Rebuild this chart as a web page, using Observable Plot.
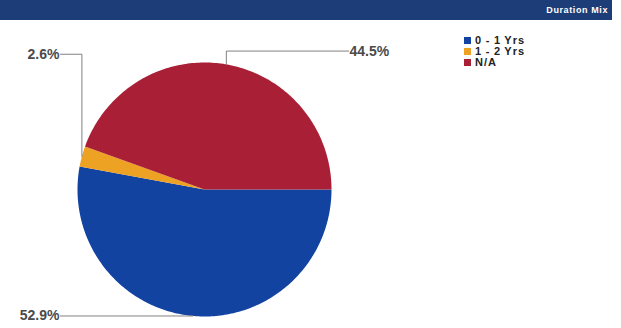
<!DOCTYPE html>
<html><head><meta charset="utf-8">
<script src="https://cdn.jsdelivr.net/npm/d3@7"></script>
<script src="https://cdn.jsdelivr.net/npm/@observablehq/plot@0.6"></script>
<style>
body{margin:0;background:#fff;font-family:"Liberation Sans",Arial,sans-serif;}
#wrap{position:relative;width:621px;height:328px;overflow:hidden;background:#fff}
#hdr{position:absolute;left:0;top:0;width:612px;height:20px;background:#1c3d78;}
#hdr span{position:absolute;right:4px;top:5px;color:#fff;font-size:9px;font-weight:bold;letter-spacing:0.6px}
#chart{position:absolute;left:0;top:21px}
#chart svg text.lbl{letter-spacing:0.8px}
#legend{position:absolute;left:464px;top:35px;font-size:11px;font-weight:bold;color:#222}
.row{height:11px;line-height:11px;display:flex;align-items:center;letter-spacing:1px;word-spacing:-0.5px}
.sw{width:7px;height:7px;margin-right:4px}
</style>
</head><body>
<div id="wrap">
  <div id="hdr"><span>Duration Mix</span></div>
  <div id="chart"></div>
  <div id="legend"></div>
</div>
<script>
const categories = ["0 - 1 Yrs", "1 - 2 Yrs", "N/A"];
const shares = [52.9, 2.6, 44.5];
const labels = ["52.9%", "2.6%", "44.5%"];
const colors = ["#1343a0", "#eea224", "#a91f36"];

// layout of the leader lines (unit-radius coordinates)
const leaderSide = [-1, -1, 1];
const leaderElbowY = [null, 1.065, 1.09];
const leaderEndX = 1.134;

const total = d3.sum(shares);
let acc = 0;
const slices = categories.map((c, i) => {
  const a0 = acc / total * 360; acc += shares[i];
  const a1 = acc / total * 360;
  return {cat: c, a0, a1, mid: (a0 + a1) / 2, i};
});
const pt = a => { const r = -a * Math.PI / 180; return [Math.cos(r), Math.sin(r)]; };

const piePts = [];
for (const s of slices) {
  piePts.push({cat: s.cat, x: 0, y: 0});
  const n = Math.max(2, Math.ceil(s.a1 - s.a0));
  for (let k = 0; k <= n; k++) {
    const [x, y] = pt(s.a0 + (s.a1 - s.a0) * k / n);
    piePts.push({cat: s.cat, x, y});
  }
}

const leaderPts = [], labelPts = [];
for (const s of slices) {
  const [x, y] = pt(s.mid);
  const side = leaderSide[s.i];
  const ey = leaderElbowY[s.i] == null ? y : leaderElbowY[s.i];
  leaderPts.push({cat: s.cat, x, y}, {cat: s.cat, x, y: ey}, {cat: s.cat, x: side * leaderEndX, y: ey});
  labelPts.push({text: labels[s.i], x: side * (leaderEndX + 0.008), y: ey, anchor: side < 0 ? "end" : "start"});
}

const font = "Liberation Sans, Arial, sans-serif";
const plot = Plot.plot({
  width: 621, height: 307,
  margin: 0,
  style: {fontFamily: font},
  x: {domain: [-1, 1], range: [77, 331], axis: null},
  y: {domain: [-1, 1], range: [295, 41], axis: null},
  color: {domain: categories, range: colors},
  marks: [
    Plot.line(piePts, {x: "x", y: "y", z: "cat", fill: "cat", stroke: "none", curve: "linear"}),
    Plot.line(leaderPts, {x: "x", y: "y", z: "cat", stroke: "#808080", strokeWidth: 1}),
    Plot.text(labelPts.filter(d => d.anchor === "end"), {x: "x", y: "y", text: "text", textAnchor: "end", fontSize: 14, fontWeight: "bold", fontFamily: font, fill: "#4a4a4a", className: "lbl"}),
    Plot.text(labelPts.filter(d => d.anchor === "start"), {x: "x", y: "y", text: "text", textAnchor: "start", fontSize: 14, fontWeight: "bold", fontFamily: font, fill: "#4a4a4a", className: "lbl"})
  ]
});
document.getElementById("chart").appendChild(plot);

const color = plot.scale("color");
const leg = document.getElementById("legend");
categories.forEach((c, i) => {
  const row = document.createElement("div"); row.className = "row";
  const sw = document.createElement("span"); sw.className = "sw"; sw.style.background = colors[color.domain.indexOf(c)];
  row.appendChild(sw); row.appendChild(document.createTextNode(c));
  leg.appendChild(row);
});
</script>
</body></html>
